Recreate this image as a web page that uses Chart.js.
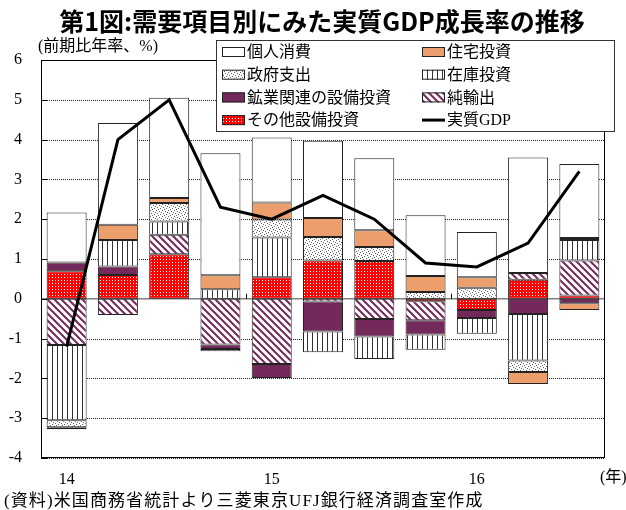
<!DOCTYPE html>
<html lang="ja">
<head>
<meta charset="utf-8">
<title>第1図</title>
<script src="https://cdn.jsdelivr.net/npm/chart.js@4.4.1/dist/chart.umd.min.js"></script>
<style>
  html, body { margin: 0; padding: 0; background: #fff; }
  #wrap { width: 626px; height: 510px; }
</style>
</head>
<body>
<div id="wrap"><canvas id="gdpChart" width="626" height="510"></canvas></div>
<script>
// 2014Q1 - 2016Q3 (四半期)
const quarters = ['14', '', '', '', '15', '', '', '', '16', '', ''];
const yTicks = [6, 5, 4, 3, 2, 1, 0, -1, -2, -3, -4];

// 寄与度 (前期比年率、%pt)
const otherCapex  = [0.69, 0.60, 1.12, 0.00, 0.54, 0.96, 0.95, -0.06, -0.28, 0.48, 0.08];
const netExports  = [-1.16, -0.41, 0.49, -1.15, -1.64, -0.07, -0.51, -0.48, 0.00, 0.17, 0.88];
const miningCapex = [0.22, 0.21, 0.00, -0.11, -0.35, -0.75, -0.44, -0.36, -0.20, -0.38, -0.11];
const inventories = [-1.89, 0.67, 0.33, 0.24, 1.00, -0.52, -0.56, -0.38, -0.40, -1.17, 0.52];
const government  = [-0.18, 0.00, 0.47, -0.06, 0.45, 0.59, 0.35, 0.17, 0.28, -0.29, 0.05];
const housing     = [-0.05, 0.38, 0.12, 0.35, 0.43, 0.48, 0.42, 0.40, 0.26, -0.30, -0.17];
const consumption = [1.26, 2.56, 2.52, 3.07, 1.63, 1.94, 1.81, 1.53, 1.14, 2.90, 1.86];
const realGdp     = [-1.2, 4.0, 5.0, 2.3, 2.0, 2.6, 2.0, 0.9, 0.8, 1.4, 3.2];

const legendRows = [
  ['個人消費', '住宅投資'],
  ['政府支出', '在庫投資'],
  ['鉱業関連の設備投資', '純輸出'],
  ['その他設備投資', '実質GDP']
];

const serif = '"Liberation Serif", "Noto Sans CJK JP"';
const PURPLE = '#73295A';
const ORANGE = '#EC9F6C';

// 模様 (パターン) 作成
function makePattern(w, h, paint) {
  const c = document.createElement('canvas');
  c.width = w; c.height = h;
  const g = c.getContext('2d');
  paint(g);
  return g.createPattern(c, 'repeat');
}

const checkFill = makePattern(3, 3, g => {
  g.fillStyle = '#FF0000'; g.fillRect(0, 0, 3, 3);
  g.fillStyle = '#fff'; g.fillRect(1, 1, 1, 1);
});
const hatchFill = makePattern(7, 7, g => {
  g.fillStyle = '#fff'; g.fillRect(0, 0, 7, 7);
  g.strokeStyle = PURPLE; g.lineWidth = 2;
  g.beginPath();
  g.moveTo(-2, -2); g.lineTo(9, 9);
  g.moveTo(5, -2); g.lineTo(9, 2);
  g.moveTo(-2, 5); g.lineTo(2, 9);
  g.stroke();
});
const vlineFill = makePattern(5, 5, g => {
  g.fillStyle = '#fff'; g.fillRect(0, 0, 5, 5);
  g.fillStyle = '#333'; g.fillRect(2, 0, 1, 5);
});
const dotsFill = makePattern(6, 6, g => {
  g.fillStyle = '#fff'; g.fillRect(0, 0, 6, 6);
  g.fillStyle = '#666';
  [[0, 0], [3, 1], [1, 3], [4, 4], [5, 2], [2, 5]].forEach(([px, py]) => g.fillRect(px, py, 1, 1));
});

function barSet(label, data, bg) {
  return {
    type: 'bar', label, data,
    backgroundColor: bg,
    borderColor: '#222',
    borderWidth: 1,
    borderSkipped: false,
    stack: 'parts',
    order: 1,
    categoryPercentage: 0.78,
    barPercentage: 1
  };
}

const datasets = [
  barSet('その他設備投資', otherCapex, checkFill),
  barSet('純輸出', netExports, hatchFill),
  barSet('鉱業関連の設備投資', miningCapex, PURPLE),
  barSet('在庫投資', inventories, vlineFill),
  barSet('政府支出', government, dotsFill),
  barSet('住宅投資', housing, ORANGE),
  barSet('個人消費', consumption, '#fff'),
  {
    type: 'line', label: '実質GDP', data: realGdp,
    borderColor: '#000', borderWidth: 3,
    pointRadius: 0, fill: false, tension: 0,
    stack: 'gdp', order: 0
  }
];

// 目盛線・枠・凡例・文字
const chartDecor = {
  id: 'chartDecor',
  beforeDatasetsDraw(chart) {
    const { ctx, chartArea: a, scales: { x, y } } = chart;
    ctx.save();
    ctx.strokeStyle = '#222';
    ctx.lineWidth = 1;
    ctx.setLineDash([1, 1]);
    yTicks.forEach(v => {
      if (v === 0 || v === 6) return;
      const py = Math.round(y.getPixelForValue(v)) + 0.5;
      ctx.beginPath(); ctx.moveTo(a.left, py); ctx.lineTo(a.right, py); ctx.stroke();
    });
    ctx.setLineDash([]);
    const zy = y.getPixelForValue(0);
    ctx.strokeStyle = '#808080';
    ctx.lineWidth = 1.5;
    ctx.beginPath(); ctx.moveTo(a.left, zy); ctx.lineTo(a.right, zy); ctx.stroke();
    // 年の区切り
    ctx.strokeStyle = '#000';
    ctx.lineWidth = 1;
    [[3, 4], [7, 8]].forEach(([i, j]) => {
      const px = Math.round((x.getPixelForValue(i) + x.getPixelForValue(j)) / 2) + 0.5;
      ctx.beginPath(); ctx.moveTo(px, zy); ctx.lineTo(px, zy - 5); ctx.stroke();
    });
    ctx.restore();
  },
  afterDraw(chart) {
    const { ctx, chartArea: a, scales: { y } } = chart;
    ctx.save();
    // 枠
    ctx.strokeStyle = '#000';
    ctx.lineWidth = 1;
    ctx.strokeRect(Math.round(a.left) + 0.5, Math.round(a.top) + 0.5,
      Math.round(a.right - a.left) - 1, Math.round(a.bottom - a.top) - 1);
    yTicks.forEach(v => {
      const py = Math.round(y.getPixelForValue(v)) + 0.5;
      ctx.beginPath(); ctx.moveTo(a.left, py); ctx.lineTo(a.left + 6, py); ctx.stroke();
    });

    // 凡例
    const lx = 216.5, ly = 40.5, lw = 398, lh = 91;
    ctx.fillStyle = '#fff';
    ctx.fillRect(lx, ly, lw, lh);
    ctx.strokeStyle = '#333';
    ctx.strokeRect(lx, ly, lw, lh);
    ctx.font = '16px ' + serif;
    ctx.textBaseline = 'middle';
    ctx.textAlign = 'left';
    legendRows.forEach((row, r) => {
      const cy = 52 + r * 22.7;
      row.forEach((name, c) => {
        const sx = c === 0 ? 222 : 422;
        const ds = chart.data.datasets.find(d => d.label === name);
        if (ds.type === 'line') {
          ctx.strokeStyle = ds.borderColor;
          ctx.lineWidth = 3;
          ctx.beginPath(); ctx.moveTo(sx, cy); ctx.lineTo(sx + 23, cy); ctx.stroke();
        } else {
          ctx.fillStyle = ds.backgroundColor;
          ctx.fillRect(sx, cy - 5, 23, 10);
          ctx.strokeStyle = '#222';
          ctx.lineWidth = 1;
          ctx.strokeRect(sx + 0.5, cy - 4.5, 22, 9);
        }
        ctx.fillStyle = '#000';
        ctx.fillText(name, sx + 25, cy + 1);
      });
    });

    // タイトル・単位・出所
    ctx.fillStyle = '#000';
    ctx.textAlign = 'center';
    ctx.font = 'bold 25px "Noto Sans CJK JP"';
    ctx.fillText('第1図:需要項目別にみた実質GDP成長率の推移', 322, 21);
    ctx.textAlign = 'left';
    ctx.font = '16px ' + serif;
    ctx.fillText('(前期比年率、%)', 38, 47);
    ctx.fillText('(年)', 600, 478);
    ctx.font = '17px ' + serif;
    ctx.letterSpacing = '1.1px';
    ctx.fillText('(資料)米国商務省統計より三菱東京UFJ銀行経済調査室作成', 4, 502);
    ctx.restore();
  }
};

const config = {
  data: { labels: quarters, datasets },
  options: {
    responsive: false,
    animation: false,
    layout: { padding: { top: 60, right: 21, bottom: 0, left: 0 } },
    scales: {
      x: {
        stacked: true,
        grid: { display: false, drawTicks: false },
        border: { display: false },
        ticks: { color: '#000', font: { size: 16, family: serif }, padding: 12, autoSkip: false, maxRotation: 0 },
        afterFit: s => { s.height = 52; }
      },
      y: {
        stacked: true,
        min: -4,
        max: 6,
        afterBuildTicks: s => { s.ticks = yTicks.map(v => ({ value: v })); },
        grid: { display: false, drawTicks: false },
        border: { display: false },
        ticks: { color: '#000', font: { size: 16, family: serif }, padding: 19 },
        afterFit: s => { s.width = 41; }
      }
    },
    plugins: {
      legend: { display: false },
      tooltip: { enabled: false }
    }
  },
  plugins: [chartDecor]
};

const chart = new Chart(document.getElementById('gdpChart'), config);
</script>
</body>
</html>
